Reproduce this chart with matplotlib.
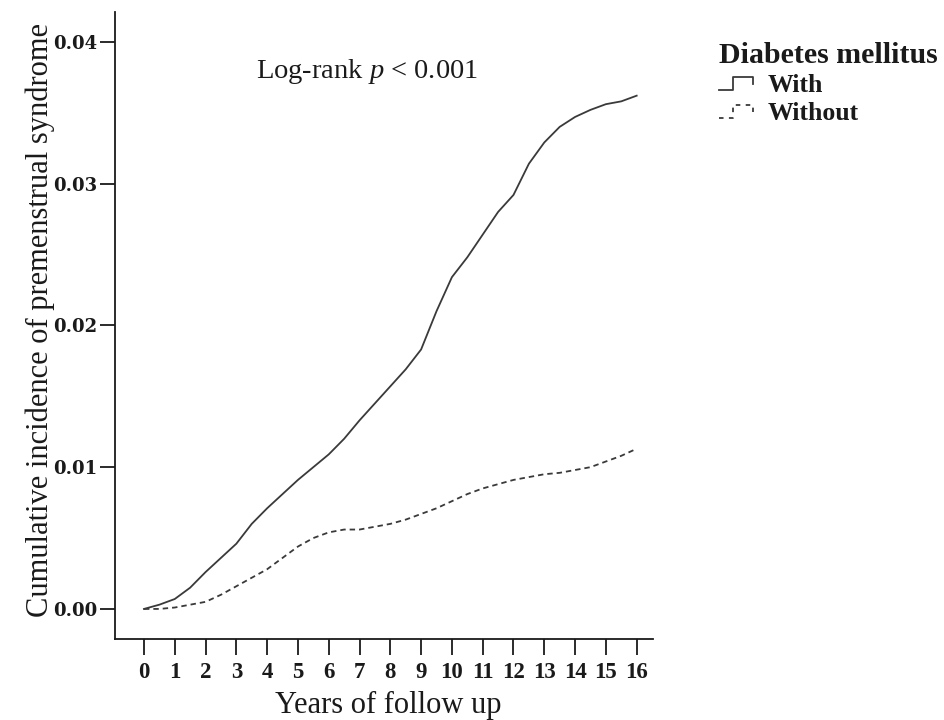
import matplotlib
matplotlib.use("Agg")
import matplotlib.pyplot as plt
from matplotlib.lines import Line2D
from matplotlib.legend_handler import HandlerLine2D
import numpy as np

# values
years = [0, 0.5, 1, 1.5, 2, 2.5, 3, 3.5, 4, 4.5, 5, 5.5, 6, 6.5, 7, 7.5, 8,
         8.5, 9, 9.5, 10, 10.5, 11, 11.5, 12, 12.5, 13, 13.5, 14, 14.5, 15, 15.5, 16]
with_dm = [0.0000, 0.0003, 0.0007, 0.0015, 0.0026, 0.0036, 0.0046, 0.0060, 0.0071,
           0.0081, 0.0091, 0.0100, 0.0109, 0.0120, 0.0133, 0.0145, 0.0157, 0.0169,
           0.0183, 0.0210, 0.0234, 0.0248, 0.0264, 0.0280, 0.0292, 0.0314, 0.0329,
           0.0340, 0.0347, 0.0352, 0.0356, 0.0358, 0.0362]
without_dm = [0.0000, 0.0000, 0.0001, 0.0003, 0.0005, 0.0010, 0.0016, 0.0022, 0.0028,
              0.0036, 0.0044, 0.0050, 0.0054, 0.0056, 0.0056, 0.0058, 0.0060, 0.0063,
              0.0067, 0.0071, 0.0076, 0.0081, 0.0085, 0.0088, 0.0091, 0.0093, 0.0095,
              0.0096, 0.0098, 0.0100, 0.0104, 0.0108, 0.0113]
xticks = list(range(0, 17))
yticks = [0.00, 0.01, 0.02, 0.03, 0.04]
labels = ["With", "Without"]

plt.rcParams['font.family'] = ['Liberation Serif', 'DejaVu Serif']
plt.rcParams['mathtext.fontset'] = 'custom'
plt.rcParams['mathtext.it'] = 'Liberation Serif:italic'
plt.rcParams['mathtext.rm'] = 'Liberation Serif'

ink = '#1a1a1a'


class StepHandler(HandlerLine2D):
    # little step-shaped icon like the SPSS legend
    def create_artists(self, legend, orig_handle, xdescent, ydescent,
                       width, height, fontsize, trans):
        xs = np.array([0, 0.4, 0.4, 1.0, 1.0]) * width - xdescent
        ys = np.array([0.1, 0.1, 0.85, 0.85, 0.45]) * height - ydescent
        ln = Line2D(xs, ys, color=orig_handle.get_color(),
                    linestyle=orig_handle.get_linestyle(),
                    linewidth=orig_handle.get_linewidth())
        if orig_handle.get_linestyle() != '-':
            ln.set_dashes((2.5, 3))
        ln.set_transform(trans)
        return [ln]


fig = plt.figure(figsize=(9.45, 7.2), dpi=100)
ax = fig.add_axes([0.1217, 0.1125, 0.5693, 0.8708])

l1, = ax.plot(years, with_dm, color='#3a3a3a', lw=1.3, ls='-', label=labels[0])
l2, = ax.plot(years, without_dm, color='#3a3a3a', lw=1.3, ls=(0, (3, 2.2)), label=labels[1])

ax.set_xlim(-0.94, 16.53)
ax.set_ylim(-0.00212, 0.0421)
ax.set_xticks(xticks)
ax.set_xticklabels([str(t) for t in xticks])
ax.set_yticks(yticks)
ax.set_yticklabels(['%.2f' % t for t in yticks])

for s in ['top', 'right']:
    ax.spines[s].set_visible(False)
for s in ['left', 'bottom']:
    ax.spines[s].set_linewidth(1.3)
    ax.spines[s].set_color(ink)

ax.tick_params(axis='x', length=11.5, width=1.3, color=ink, pad=5)
ax.tick_params(axis='y', length=11, width=1.3, color=ink, pad=2)
for t in ax.get_xticklabels():
    t.set_fontweight('bold')
    t.set_fontsize(16.5)
    t.set_color(ink)
for t in ax.get_yticklabels():
    t.set_family('DejaVu Serif')
    t.set_fontweight('bold')
    t.set_fontsize(13)
    t.set_color(ink)

ax.set_ylabel('Cumulative incidence of premenstrual syndrome', fontsize=22, color=ink)
ax.yaxis.set_label_coords(-0.111, 0.509)
ax.set_xlabel('Years of follow up', fontsize=22, color=ink)
ax.xaxis.set_label_coords(0.508, -0.083)

ax.text(0.468, 0.905, 'Log-rank $p$ < 0.001', transform=ax.transAxes,
        ha='center', va='center', fontsize=20.5, color=ink)

leg = fig.legend(handles=[l1, l2], labels=labels, loc='upper left',
                 bbox_to_anchor=(0.761, 0.942), frameon=False,
                 title='Diabetes mellitus', alignment='left',
                 handler_map={Line2D: StepHandler()},
                 handlelength=1.3, handletextpad=0.6, labelspacing=0.2,
                 borderaxespad=0, borderpad=0,
                 prop={'weight': 'bold', 'size': 18.5},
                 title_fontproperties={'weight': 'bold', 'size': 21.5})
for t in leg.get_texts():
    t.set_color(ink)
leg.get_title().set_color(ink)

fig.savefig('out.png', dpi=100, facecolor='white')
